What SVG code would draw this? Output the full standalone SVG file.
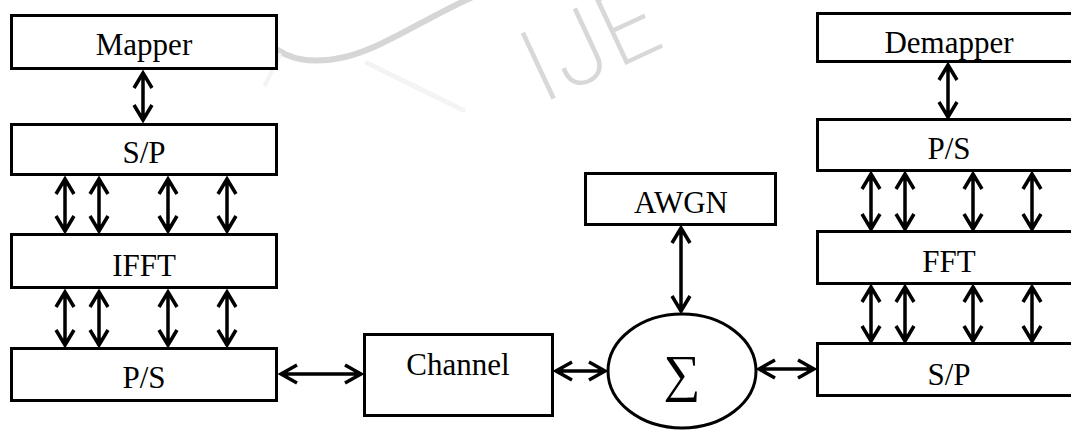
<svg xmlns="http://www.w3.org/2000/svg" width="1071" height="430" viewBox="0 0 1071 430">
  <defs>
    <style>
      .box { fill: #ffffff; stroke: #000000; stroke-width: 3; }
      .lbl { font-family: "Liberation Serif", "Times New Roman", serif; font-size: 31px; fill: #000000; text-anchor: middle; }
      .arr { fill: none; stroke: #000000; stroke-width: 3.5; stroke-linejoin: miter; stroke-miterlimit: 10; }
      .wm { fill: none; stroke-linecap: round; }
    </style>
  </defs>
  <rect width="1071" height="430" fill="#ffffff"/>

  <!-- faint background watermark -->
  <g id="watermark">
    <path class="wm" style="stroke:#d6d6d6;stroke-width:6" d="M 262 36 C 280 58, 306 66, 345 57 C 385 47, 425 18, 475 -4"/>
    <path class="wm" style="stroke:#f4f4f4;stroke-width:5" d="M 367 63 L 463 110"/>
    <path class="wm" style="stroke:#f4f4f4;stroke-width:4" d="M 280 55 L 265 85"/>
    <text x="542" y="104" transform="rotate(-25 542 104)" font-family="Inter, 'DejaVu Sans', sans-serif" font-weight="200" font-size="100" fill="#d8d8d8">IJE</text>
  </g>

  <!-- transmitter chain -->
  <g id="mapper">
    <rect class="box" x="11.5" y="15.5" width="265" height="53"/>
    <text class="lbl" x="144" y="55">Mapper</text>
  </g>
  <g id="tx-sp">
    <rect class="box" x="11.5" y="124.5" width="265" height="50"/>
    <text class="lbl" x="144" y="163">S/P</text>
  </g>
  <g id="ifft">
    <rect class="box" x="11.5" y="234.5" width="265" height="53"/>
    <text class="lbl" x="144" y="276">IFFT</text>
  </g>
  <g id="tx-ps">
    <rect class="box" x="11.5" y="348.5" width="265" height="52"/>
    <text class="lbl" x="144" y="388">P/S</text>
  </g>

  <!-- channel and noise -->
  <g id="channel">
    <rect class="box" x="364.5" y="334.5" width="188" height="81"/>
    <text class="lbl" x="458" y="375">Channel</text>
  </g>
  <g id="awgn">
    <rect class="box" x="585.5" y="173.5" width="190" height="51"/>
    <text class="lbl" x="681" y="213">AWGN</text>
  </g>
  <g id="adder">
    <ellipse cx="682" cy="371" rx="74" ry="57" fill="#ffffff" stroke="#000000" stroke-width="3"/>
    <text x="682" y="391" font-family="'Liberation Serif', serif" font-size="52" text-anchor="middle">∑</text>
  </g>

  <!-- receiver chain -->
  <g id="demapper">
    <rect class="box" x="817.5" y="13.5" width="300" height="48"/>
    <text class="lbl" x="949" y="53">Demapper</text>
  </g>
  <g id="rx-ps">
    <rect class="box" x="817.5" y="119.5" width="300" height="51"/>
    <text class="lbl" x="949" y="159">P/S</text>
  </g>
  <g id="fft">
    <rect class="box" x="817.5" y="231.5" width="300" height="52"/>
    <text class="lbl" x="949" y="272">FFT</text>
  </g>
  <g id="rx-sp">
    <rect class="box" x="817.5" y="343.5" width="300" height="52"/>
    <text class="lbl" x="949" y="385">S/P</text>
  </g>

  <!-- double-headed connectors -->
  <g id="connectors" class="arr">
    <!-- Mapper <-> S/P -->
    <path d="M143 73V120M134 88L143 73L152 88M134 105L143 120L152 105"/>
    <!-- S/P <-> IFFT -->
    <path d="M65 179V231M56 194L65 179L74 194M56 216L65 231L74 216"/>
    <path d="M99 179V231M90 194L99 179L108 194M90 216L99 231L108 216"/>
    <path d="M168 179V231M159 194L168 179L177 194M159 216L168 231L177 216"/>
    <path d="M227 179V231M218 194L227 179L236 194M218 216L227 231L236 216"/>
    <!-- IFFT <-> P/S -->
    <path d="M65 292V345M56 307L65 292L74 307M56 330L65 345L74 330"/>
    <path d="M99 292V345M90 307L99 292L108 307M90 330L99 345L108 330"/>
    <path d="M168 292V345M159 307L168 292L177 307M159 330L168 345L177 330"/>
    <path d="M227 292V345M218 307L227 292L236 307M218 330L227 345L236 330"/>
    <!-- P/S <-> Channel -->
    <path d="M281 374H361M297 365L281 374L297 383M345 365L361 374L345 383"/>
    <!-- Channel <-> adder -->
    <path d="M556 371H605M572 362L556 371L572 380M589 362L605 371L589 380"/>
    <!-- AWGN <-> adder -->
    <path d="M681 228V311M672 243L681 228L690 243M672 296L681 311L690 296"/>
    <!-- adder <-> S/P -->
    <path d="M759 369H814M775 360L759 369L775 378M798 360L814 369L798 378"/>
    <!-- Demapper <-> P/S -->
    <path d="M948 65V117M939 80L948 65L957 80M939 102L948 117L957 102"/>
    <!-- P/S <-> FFT -->
    <path d="M871 174V229M862 189L871 174L880 189M862 214L871 229L880 214"/>
    <path d="M905 174V229M896 189L905 174L914 189M896 214L905 229L914 214"/>
    <path d="M973 174V229M964 189L973 174L982 189M964 214L973 229L982 214"/>
    <path d="M1032 174V229M1023 189L1032 174L1041 189M1023 214L1032 229L1041 214"/>
    <!-- FFT <-> S/P -->
    <path d="M871 287V341M862 302L871 287L880 302M862 326L871 341L880 326"/>
    <path d="M905 287V341M896 302L905 287L914 302M896 326L905 341L914 326"/>
    <path d="M973 287V341M964 302L973 287L982 302M964 326L973 341L982 326"/>
    <path d="M1032 287V341M1023 302L1032 287L1041 302M1023 326L1032 341L1041 326"/>
  </g>
</svg>
